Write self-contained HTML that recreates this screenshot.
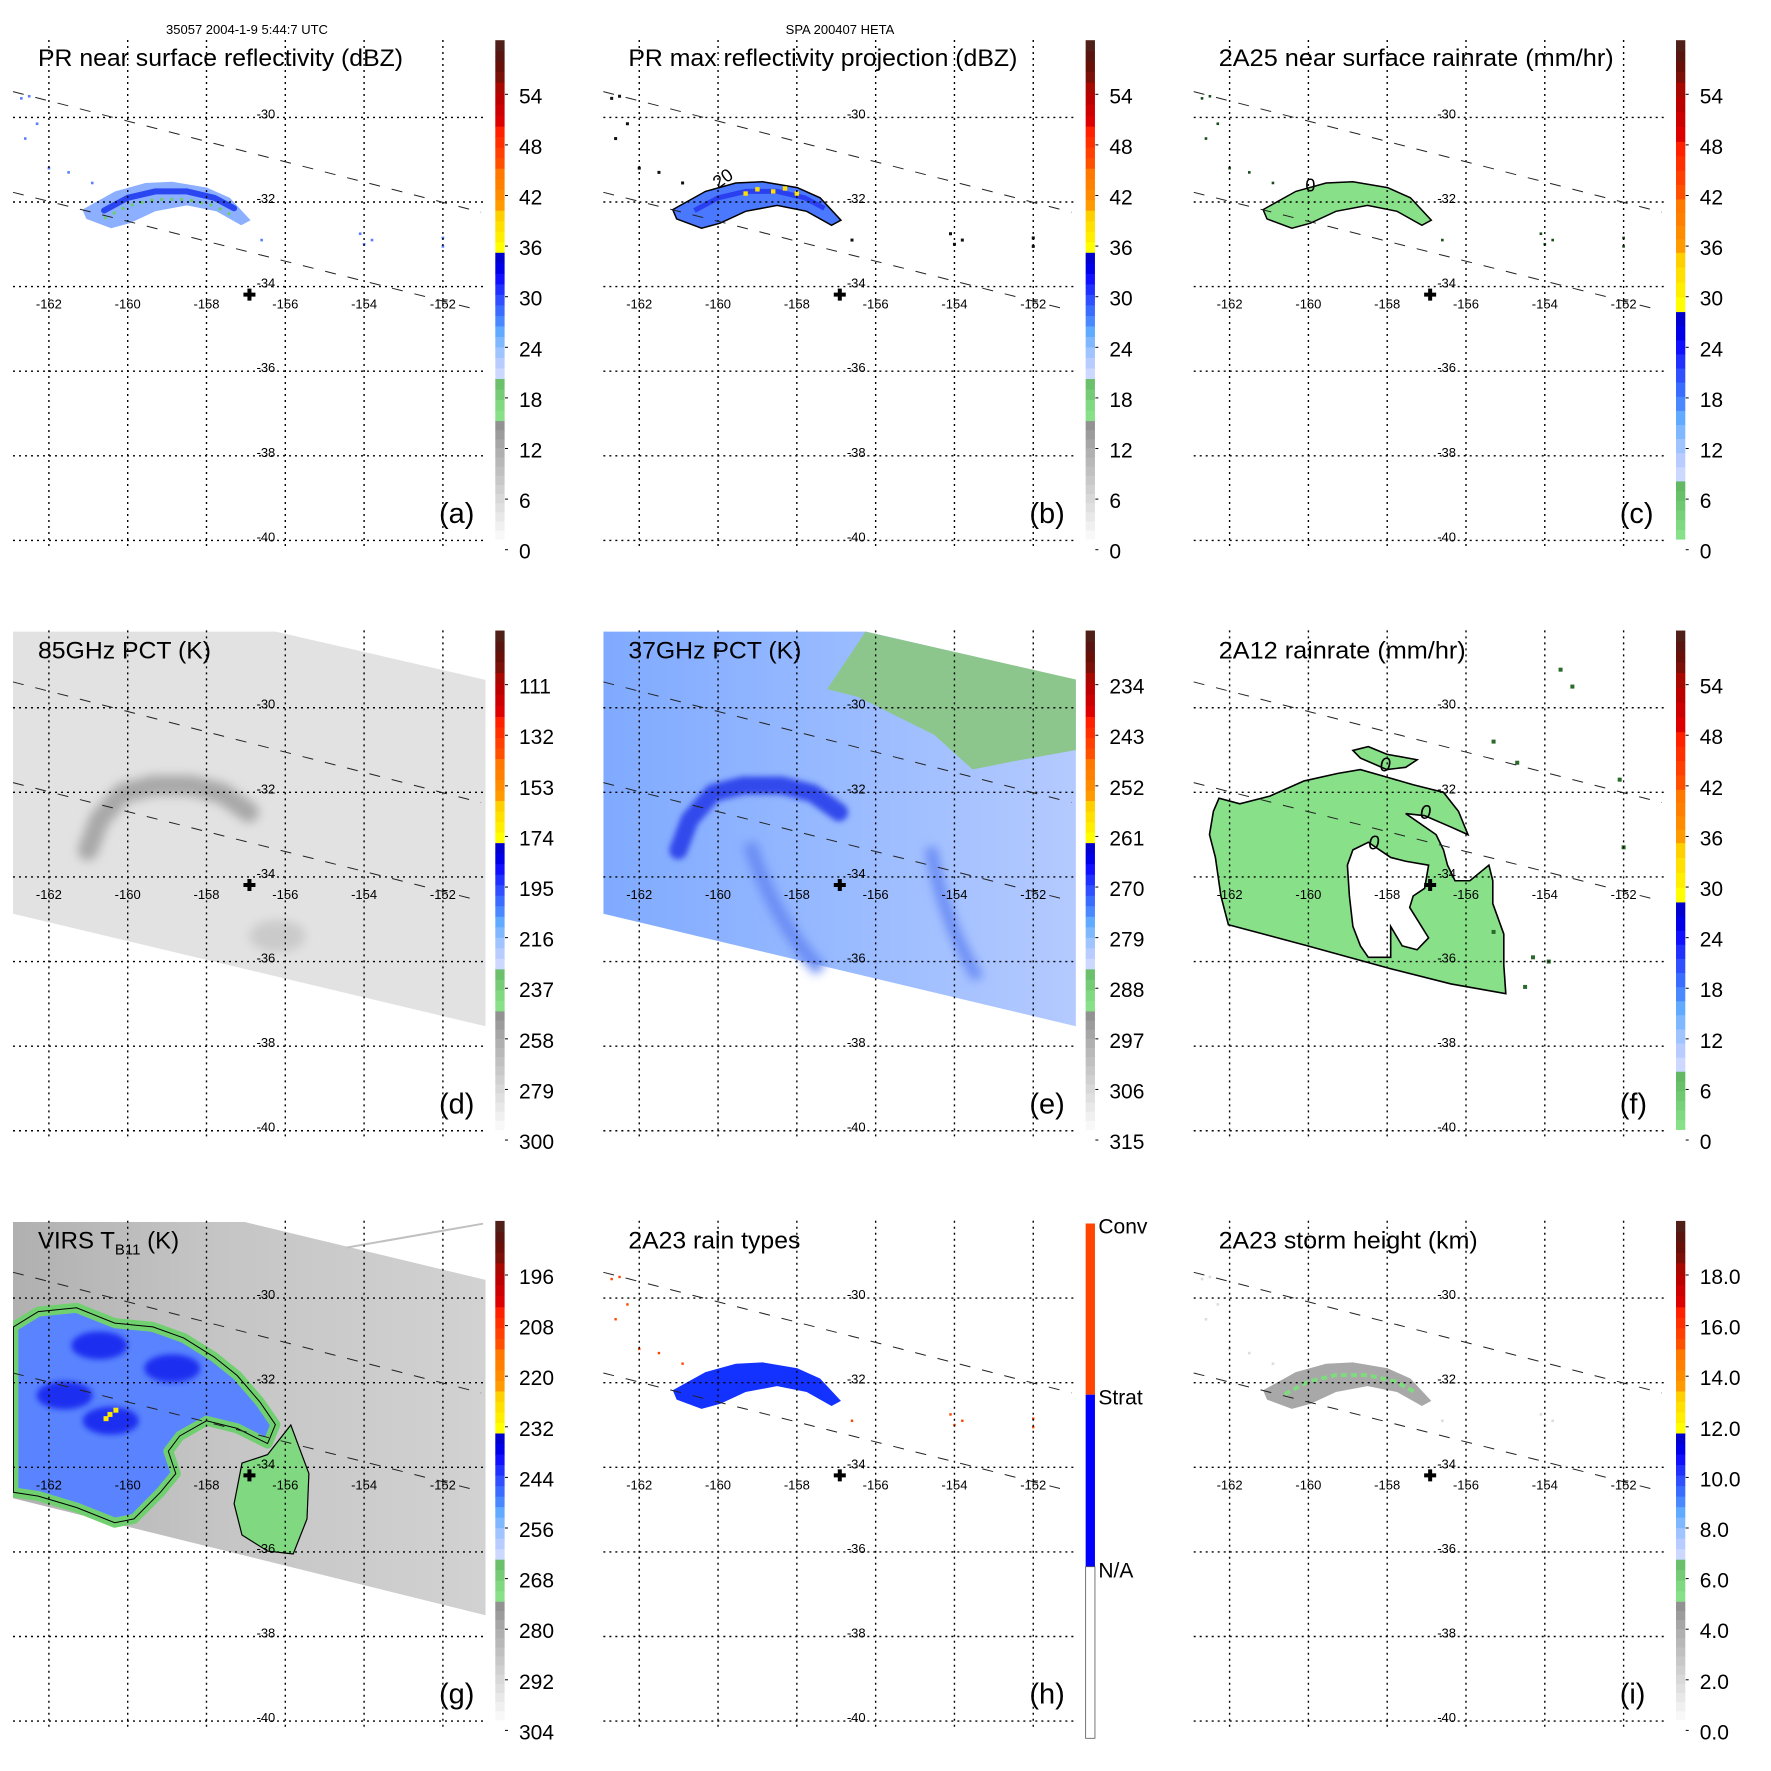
<!DOCTYPE html>
<html><head><meta charset="utf-8"><style>
html,body{margin:0;padding:0;background:#fff}
svg{display:block;font-family:"Liberation Sans",Arial,sans-serif}
</style></head><body>
<svg id="fig" xmlns="http://www.w3.org/2000/svg" width="1771" height="1771" viewBox="0 0 1771 1771">
<defs>
<filter id="blur5" x="-50%" y="-50%" width="200%" height="200%"><feGaussianBlur stdDeviation="5"/></filter>
<filter id="blur3" x="-50%" y="-50%" width="200%" height="200%"><feGaussianBlur stdDeviation="3"/></filter>
<linearGradient id="gradE" x1="0" x2="1" y1="0" y2="0"><stop offset="0" stop-color="#80aaff"/><stop offset="0.5" stop-color="#98baff"/><stop offset="1" stop-color="#b4caff"/></linearGradient>
<linearGradient id="gradG" x1="0" x2="1" y1="0" y2="0"><stop offset="0" stop-color="#b0b0b0"/><stop offset="0.4" stop-color="#c4c4c4"/><stop offset="1" stop-color="#d2d2d2"/></linearGradient>
<clipPath id="plotClip"><rect x="13" y="40" width="473" height="510"/></clipPath>
</defs>
<text x="247" y="34" font-size="13" text-anchor="middle">35057 2004-1-9 5:44:7 UTC</text>
<text x="840" y="34" font-size="13" text-anchor="middle">SPA 200407 HETA</text>
</svg>
<script>
// ---- data (lon/lat) ----
const lonTicks = [-162,-160,-158,-156,-154,-152];
const latTicks = [-30,-32,-34,-36,-38,-40];
const dashUpper = [[-162.91,-29.39],[-151.03,-32.24]];
const dashLower = [[-162.91,-31.77],[-151.03,-34.57]];
const plusPos = [-156.91,-34.19];
const arcTop = [[-161.15,-32.18],[-160.32,-31.75],[-159.55,-31.55],[-158.87,-31.52],[-157.99,-31.66],[-157.41,-31.9],[-156.88,-32.43]];
const arcBottom = [[-157.12,-32.55],[-157.75,-32.22],[-158.5,-32.08],[-159.3,-32.22],[-159.95,-32.5],[-160.42,-32.62],[-161.05,-32.4]];
const arcCore = [[-160.6,-32.2],[-160.0,-31.9],[-159.3,-31.75],[-158.5,-31.75],[-157.8,-31.9],[-157.3,-32.15]];
const speckles = [[-162.7,-29.55],[-162.5,-29.5],[-162.3,-30.15],[-162.6,-30.5],[-162.0,-31.2],[-161.5,-31.3],[-160.9,-31.55],[-154.1,-32.75],[-154.0,-33.0],[-153.8,-32.9],[-152.0,-32.85],[-152.0,-33.05],[-156.6,-32.9]];
const yellowBits = [[-159.0,-31.7],[-158.6,-31.75],[-158.3,-31.68],[-158.0,-31.8],[-159.3,-31.8]];
const swathD = [[-162.91,-28.2],[-156.24,-28.2],[-150.92,-29.34],[-150.92,-37.53],[-162.91,-34.87]];
const swathG = [[-162.91,-28.2],[-157.03,-28.2],[-150.92,-29.57],[-150.92,-37.5],[-162.91,-34.73]];
const pctArc = [[-161.01,-33.37],[-160.72,-32.65],[-160.13,-32.02],[-159.36,-31.84],[-158.39,-31.84],[-157.61,-32.02],[-156.93,-32.47]];
const eGreen = [[-157.23,-29.56],[-156.26,-28.20],[-150.92,-29.33],[-150.92,-31.00],[-152.57,-31.28],[-153.54,-31.46],[-154.51,-30.64],[-155.49,-30.19],[-156.46,-29.74]];
const fOutline = [[-162.41,-32.45],[-162.27,-32.14],[-161.74,-32.27],[-160.98,-32.09],[-160.11,-31.73],[-159.25,-31.55],[-158.68,-31.46],[-158.01,-31.64],[-157.34,-31.82],[-156.57,-32.00],[-156.19,-32.45],[-155.95,-33.00],[-156.38,-32.82],[-157.05,-32.55],[-157.53,-32.50],[-156.76,-33.00],[-156.57,-33.36],[-156.47,-33.72],[-156.28,-34.09],[-155.90,-34.09],[-155.42,-33.72],[-155.32,-34.09],[-155.32,-34.63],[-155.04,-35.35],[-155.04,-36.08],[-154.99,-36.76],[-156.38,-36.53],[-157.91,-36.17],[-160.02,-35.63],[-162.03,-35.13],[-162.22,-34.45],[-162.36,-33.54],[-162.51,-33.00]];
const fHole = [[-158.87,-33.36],[-158.48,-33.18],[-157.91,-33.54],[-157.53,-33.63],[-156.95,-33.72],[-157.05,-34.27],[-157.34,-34.45],[-157.43,-34.72],[-156.95,-35.44],[-157.24,-35.72],[-157.62,-35.63],[-157.91,-35.17],[-157.91,-35.90],[-158.48,-35.90],[-158.68,-35.63],[-158.87,-35.17],[-158.96,-34.45],[-159.01,-33.72]];
const fBlob = [[-158.87,-31.01],[-158.48,-30.92],[-158.01,-31.10],[-157.24,-31.23],[-157.53,-31.41],[-158.01,-31.46],[-158.68,-31.19]];
const fSmall = [[-155.3,-35.3],[-154.3,-35.9],[-153.9,-36.0],[-154.5,-36.6],[-152.0,-33.3],[-152.1,-31.7],[-154.7,-31.3],[-155.3,-30.8],[-153.6,-29.1],[-153.3,-29.5]];
const gCloud = [[-162.90,-30.68],[-162.27,-30.32],[-161.30,-30.23],[-160.33,-30.59],[-159.36,-30.68],[-158.58,-30.94],[-157.81,-31.39],[-157.22,-31.83],[-156.64,-32.46],[-156.25,-32.99],[-156.45,-33.44],[-157.22,-33.08],[-158.00,-32.90],[-158.68,-33.26],[-158.97,-33.62],[-158.78,-34.15],[-159.17,-34.59],[-159.84,-35.22],[-160.33,-35.31],[-161.30,-34.95],[-162.27,-34.68],[-162.90,-34.59]];
const gGreen = [[-157.1,-33.9],[-156.45,-33.7],[-155.86,-33.0],[-155.4,-34.15],[-155.45,-35.22],[-155.8,-36.05],[-156.45,-35.98],[-157.1,-35.6],[-157.3,-34.86]];
const gCores = [[-160.72,-31.12],[-160.43,-32.9],[-158.87,-31.66],[-161.6,-32.3]];
const gYellow = [[-160.45,-32.75],[-160.3,-32.65],[-160.55,-32.85]];
// colorbar tick labels (bottom to top)
const dbzLabels = ["0","6","12","18","24","30","36","42","48","54"];
const pct85Labels = ["300","279","258","237","216","195","174","153","132","111"];
const pct37Labels = ["315","306","297","288","279","270","261","252","243","234"];
const virsLabels = ["304","292","280","268","256","244","232","220","208","196"];
const heightLabels = ["0.0","2.0","4.0","6.0","8.0","10.0","12.0","14.0","16.0","18.0"];
const rainTypeLabels = ["N/A","Strat","Conv"];

// ---- axis functions ----
const X = lon => 48.9 + (lon + 162) * 39.4;
const Y = lat => 117.4 + (-30 - lat) * 42.3;
const NS = "http://www.w3.org/2000/svg";
const svg = document.getElementById('fig');
function mk(tag, attrs, parent){ const e=document.createElementNS(NS,tag); for(const k in attrs) e.setAttribute(k,attrs[k]); parent.appendChild(e); return e; }
function pts(arr){ return arr.map(p=>X(p[0]).toFixed(1)+','+Y(p[1]).toFixed(1)).join(' '); }
function pathD(arr){ return 'M'+arr.map(p=>X(p[0]).toFixed(1)+' '+Y(p[1]).toFixed(1)).join(' L')+' Z'; }
function lineD(arr){ return 'M'+arr.map(p=>X(p[0]).toFixed(1)+' '+Y(p[1]).toFixed(1)).join(' L'); }

const yellow=['#ffff00','#ffee00','#ffe000','#ffd000'];
const orange=['#ff9a00','#ff8c00','#ff8000','#ff7800'];
const redor=['#ff5000','#ff4000','#ff3000','#ff2000'];
const red=['#dd0000','#cc0000','#bb0000','#a80800'];
const dark=['#7a1008','#681008','#5a1410','#502018'];
const blues=['#ccd8ff','#b8ccff','#a0c4ff','#80b8ff','#60aaff','#4a88ff','#3a6cff','#3050ff','#2030ff','#1010ff','#0000e8','#0000d0'];
const stdSegs=[[539.2,420.7,['#f8f8f8','#f0f0f0','#e8e8e8','#e0e0e0','#d8d8d8','#d0d0d0','#c8c8c8','#c0c0c0','#b8b8b8','#b0b0b0','#a6a6a6','#9c9c9c','#929292']],[420.7,378.6,['#88e088','#80d880','#76cc76','#6cc06c']],[378.6,252.4,blues],[252.4,210.3,yellow],[210.3,168.3,orange],[168.3,126.2,redor],[126.2,82.2,red],[82.2,40.2,dark]];
const rainSegs=[[539.2,481,['#88e088','#80d880','#78d078','#70c870','#68c068','#64b864']],[481,311.7,blues],[311.7,252.4,yellow],[252.4,199,orange],[199,141.5,redor],[141.5,82.2,red],[82.2,40.2,dark]];

function colorbar(g, segs, labels){
  const cb = mk('g',{},g);
  
  
  segs.forEach(s=>{ const n=s[2].length, h=(s[0]-s[1])/n;
    s[2].forEach((c,i)=>{ mk('rect',{x:495.3,y:(s[0]-(i+1)*h).toFixed(2),width:9.3,height:(h+0.4).toFixed(2),fill:c},cb); }); });
  labels.forEach((t,i)=>{ const y=550.7-i*50.6;
    mk('line',{x1:505,x2:508,y1:y-1,y2:y-1,stroke:'#000','stroke-width':1},cb);
    const tx=mk('text',{x:519,y:y+8,'font-size':21},cb); tx.textContent=t;
    
     });
}
function rainTypeBar(g){
  const cb = mk('g',{},g);
  
  
  mk('rect',{x:495.3,y:42.8,width:9.3,height:171.2,fill:'#ff4500'},cb);
  mk('rect',{x:495.3,y:214,width:9.3,height:172,fill:'#0000ff'},cb);
  mk('rect',{x:495.3,y:386,width:9.3,height:171.6,fill:'#fff',stroke:'#555','stroke-width':0.8},cb);
  const ys=[388,215,44];
  rainTypeLabels.forEach((t,i)=>{ const tx=mk('text',{x:508,y:ys[i]+9,'font-size':21},cb); tx.textContent=t;
    
     });
}
function gridAndOverlay(g){
  const gr = mk('g',{stroke:'#000','stroke-width':1.4,'stroke-dasharray':'2 4',fill:'none'},g);
  
  
  lonTicks.forEach(l=>mk('line',{x1:X(l),x2:X(l),y1:40,y2:548},gr));
  latTicks.forEach(l=>mk('line',{x1:13,x2:486,y1:Y(l),y2:Y(l)},gr));
  const dl = mk('g',{stroke:'#222','stroke-width':1,'stroke-dasharray':'11 12',fill:'none'},g);
  
  
  mk('path',{d:lineD(dashUpper)},dl); mk('path',{d:lineD(dashLower)},dl);
  const lb = mk('g',{'font-size':13,fill:'#000'},g);
  
  
  lonTicks.forEach(l=>{ const t=mk('text',{x:X(l),y:Y(-34)+22,'text-anchor':'middle'},lb); t.textContent=l; });
  latTicks.forEach(l=>{ const t=mk('text',{x:X(-156)-10,y:Y(l)+1,'text-anchor':'end'},lb); t.textContent=l; });
  const px=X(plusPos[0]), py=Y(plusPos[1]);
  const pl = mk('path',{d:`M${px-6} ${py}H${px+6}M${px} ${py-6}V${py+6}`,stroke:'#000','stroke-width':4},g);
  
  
}
function title(g, txt, w, y){
  const t=mk('text',{x:38,y:y,'font-size':24,textLength:w,lengthAdjust:'spacingAndGlyphs'},g); t.textContent=txt;
  
  
}
function letter(g, txt){
  const t=mk('text',{x:439,y:523,'font-size':29},g); t.textContent=txt;
  
  
}
function dots(g, arr, color, r){ arr.forEach(p=>mk('rect',{x:X(p[0])-r,y:Y(p[1])-r,width:2*r,height:2*r,fill:color},g)); }
function arcPoly(){ return arcTop.concat(arcBottom); }

const off=[0,590.35,1180.7];
function panel(ix,iy,name){ const g=mk('g',{transform:`translate(${off[ix]},${off[iy]})`},svg);
  
  
  return g; }

// (a)
let g=panel(0,0,'panel-a-pr-reflectivity'); let d=mk('g',{'clip-path':'url(#plotClip)'},g);
mk('polygon',{points:pts(arcPoly()),fill:'#8cb0ff'},d);
mk('path',{d:lineD(arcCore),stroke:'#2a46f0','stroke-width':6,fill:'none','stroke-linecap':'round'},d);
mk('path',{d:lineD(arcCore),stroke:'#6ccc6c','stroke-width':3,fill:'none','stroke-dasharray':'3 7',transform:'translate(0,8)'},d);
dots(d,speckles,'#5a80ff',1.3);
gridAndOverlay(g); colorbar(g,stdSegs,dbzLabels); title(g,'PR near surface reflectivity (dBZ)',365,66); letter(g,'(a)');
// (b)
g=panel(1,0,'panel-b-pr-max-reflectivity'); d=mk('g',{'clip-path':'url(#plotClip)'},g);
mk('polygon',{points:pts(arcPoly()),fill:'#4a78ff',stroke:'#000','stroke-width':1.5},d);
mk('path',{d:lineD(arcCore),stroke:'#2a40f0','stroke-width':5,fill:'none'},d);
dots(d,yellowBits,'#ffe000',2.2);
dots(d,speckles,'#111',1.5);
let t=mk('text',{x:X(-159.79),y:Y(-31.56),'font-size':18,'text-anchor':'middle',transform:`rotate(-35 ${X(-159.79)} ${Y(-31.56)})`},d); t.textContent='20';
gridAndOverlay(g); colorbar(g,stdSegs,dbzLabels); title(g,'PR max reflectivity projection (dBZ)',389,66); letter(g,'(b)');
// (c)
g=panel(2,0,'panel-c-2a25-rainrate'); d=mk('g',{'clip-path':'url(#plotClip)'},g);
mk('polygon',{points:pts(arcPoly()),fill:'#88e088',stroke:'#000','stroke-width':1.5},d);
dots(d,speckles,'#1a4a1a',1.3);
t=mk('text',{x:X(-159.95),y:Y(-31.75),'font-size':18,'text-anchor':'middle'},d); t.textContent='0';
gridAndOverlay(g); colorbar(g,rainSegs,dbzLabels); title(g,'2A25 near surface rainrate (mm/hr)',395,66); letter(g,'(c)');
// (d)
g=panel(0,1,'panel-d-85ghz-pct'); d=mk('g',{'clip-path':'url(#plotClip)'},g);
mk('polygon',{points:pts(swathD),fill:'#e2e2e2'},d);
mk('path',{d:lineD(pctArc),stroke:'#a8a8a8','stroke-width':20,fill:'none','stroke-linecap':'round',filter:'url(#blur5)'},d);
mk('ellipse',{cx:X(-156.2),cy:Y(-35.4),rx:28,ry:16,fill:'#cacaca',filter:'url(#blur5)'},d);
gridAndOverlay(g); colorbar(g,stdSegs,pct85Labels); title(g,'85GHz PCT (K)',173,68); letter(g,'(d)');
// (e)
g=panel(1,1,'panel-e-37ghz-pct'); d=mk('g',{'clip-path':'url(#plotClip)'},g);
mk('polygon',{points:pts(swathD),fill:'url(#gradE)'},d);
mk('polygon',{points:pts(eGreen),fill:'#8cc68c'},d);
mk('path',{d:lineD(pctArc),stroke:'#3048ec','stroke-width':18,fill:'none','stroke-linecap':'round',filter:'url(#blur3)'},d);
mk('path',{d:`M${X(-159.2)} ${Y(-33.2)} Q ${X(-158.6)} ${Y(-35)} ${X(-157.4)} ${Y(-36.2)}`,stroke:'#6a8cf4','stroke-width':14,fill:'none',filter:'url(#blur5)'},d);
mk('path',{d:`M${X(-154.6)} ${Y(-33.3)} Q ${X(-154.3)} ${Y(-35)} ${X(-153.4)} ${Y(-36.4)}`,stroke:'#6a8cf4','stroke-width':12,fill:'none',filter:'url(#blur5)'},d);
gridAndOverlay(g); colorbar(g,stdSegs,pct37Labels); title(g,'37GHz PCT (K)',173,68); letter(g,'(e)');
// (f)
g=panel(2,1,'panel-f-2a12-rainrate'); d=mk('g',{'clip-path':'url(#plotClip)'},g);
mk('path',{d:pathD(fOutline)+' '+pathD(fHole),'fill-rule':'evenodd',fill:'#88e088',stroke:'#000','stroke-width':1.6},d);
mk('polygon',{points:pts(fBlob),fill:'#88e088',stroke:'#000','stroke-width':1.6},d);
dots(d,fSmall,'#2a6a2a',2);
[[-158.05,-31.34],[-157.03,-32.47],[-158.34,-33.19]].forEach(p=>{ const tt=mk('text',{x:X(p[0]),y:Y(p[1])+7,'font-size':20,'text-anchor':'middle','font-style':'italic'},d); tt.textContent='0'; });
gridAndOverlay(g); colorbar(g,rainSegs,dbzLabels); title(g,'2A12 rainrate (mm/hr)',247,68); letter(g,'(f)');
// (g)
g=panel(0,2,'panel-g-virs-tb11'); d=mk('g',{'clip-path':'url(#plotClip)'},g);
mk('polygon',{points:pts(swathG),fill:'url(#gradG)'},d);
mk('polygon',{points:pts(gCloud),fill:'#5a84ff',stroke:'#70d070','stroke-width':10,'stroke-linejoin':'round'},d);
mk('polygon',{points:pts(gCloud),fill:'none',stroke:'#000','stroke-width':1},d);
gCores.forEach(p=>mk('ellipse',{cx:X(p[0]),cy:Y(p[1]),rx:28,ry:14,fill:'#1a2ef0',filter:'url(#blur3)'},d));
mk('polygon',{points:pts(gGreen),fill:'#80d880',stroke:'#000','stroke-width':1.2},d);
dots(d,gYellow,'#ffe800',2.5);
mk('line',{x1:346,y1:67,x2:483,y2:43,stroke:'#c0c0c0','stroke-width':2},g);
gridAndOverlay(g); colorbar(g,stdSegs,virsLabels);
t=mk('text',{x:38,y:68,'font-size':24},g);


t.innerHTML='VIRS T<tspan font-size="15" dy="6">B11</tspan><tspan dy="-6"> (K)</tspan>';
letter(g,'(g)');
// (h)
g=panel(1,2,'panel-h-2a23-rain-types'); d=mk('g',{'clip-path':'url(#plotClip)'},g);
mk('polygon',{points:pts(arcPoly()),fill:'#1432ff'},d);
dots(d,speckles,'#ff4500',1.2);
gridAndOverlay(g); rainTypeBar(g); title(g,'2A23 rain types',172,68); letter(g,'(h)');
// (i)
g=panel(2,2,'panel-i-2a23-storm-height'); d=mk('g',{'clip-path':'url(#plotClip)'},g);
mk('polygon',{points:pts(arcPoly()),fill:'#a8a8a8'},d);
mk('path',{d:lineD(arcCore),stroke:'#7edc7e','stroke-width':4,fill:'none','stroke-dasharray':'6 4',transform:'translate(0,3)'},d);
dots(d,speckles,'#dddddd',1.3);
gridAndOverlay(g); colorbar(g,stdSegs,heightLabels); title(g,'2A23 storm height (km)',259,68); letter(g,'(i)');
</script>
</body></html>
